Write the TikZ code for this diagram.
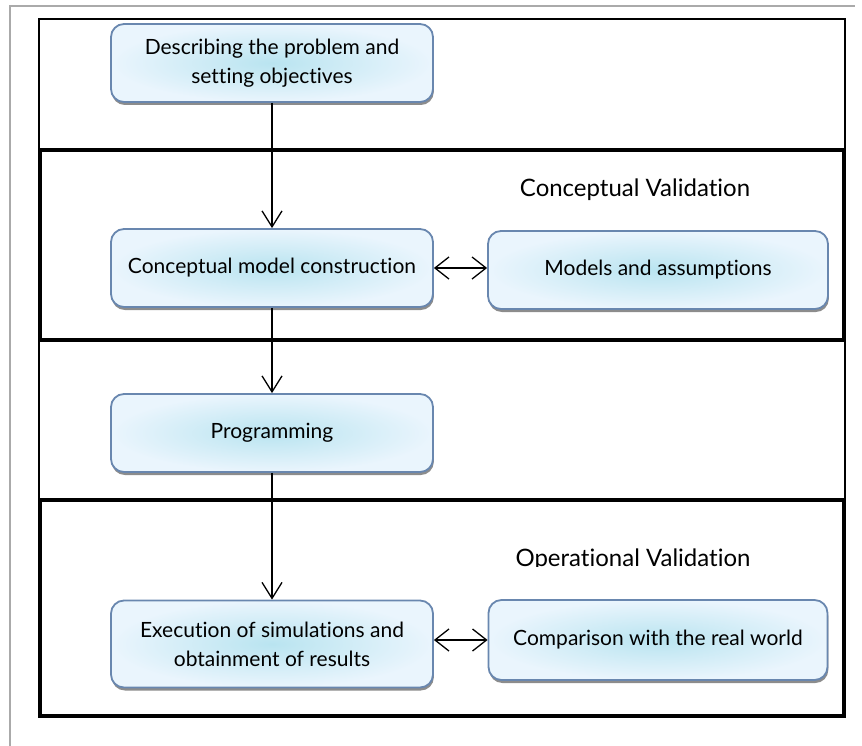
\documentclass[tikz,border=0pt]{standalone}
\usepackage{fontspec}
\setmainfont[Ligatures=NoCommon]{Lato}
\usetikzlibrary{arrows.meta,shadows}
\definecolor{boxedge}{RGB}{105,135,175}
\definecolor{boxin}{RGB}{185,228,240}
\definecolor{boxout}{RGB}{234,245,253}
\definecolor{frame}{RGB}{170,170,170}
\tikzset{
  procbox/.style={draw=boxedge, line width=1.8pt, rounded corners=13pt,
    inner color=boxin, outer color=boxout,
    minimum width=322pt, minimum height=78pt, align=center,
    font=\fontsize{21}{29}\selectfont,
    drop shadow={shadow xshift=0.8pt, shadow yshift=-3pt, opacity=0.6, fill=black!75}},
  thinband/.style={draw=black, line width=1.2pt},
  thickband/.style={draw=black, line width=3.5pt},
  flow/.style={draw=black, line width=1.3pt, -{Straight Barb[length=16pt,width=20pt,line width=1.3pt]}},
  biflow/.style={draw=black, line width=1.3pt, {Straight Barb[length=14pt,width=22pt,line width=1.3pt]}-{Straight Barb[length=14pt,width=22pt,line width=1.3pt]}},
  bandlabel/.style={font=\fontsize{24}{28}\selectfont}
}
\begin{document}
\begin{tikzpicture}[x=1pt,y=-1pt]
\useasboundingbox (0,0) rectangle (862,746);
% page frame
\draw[frame, line width=1.8pt] (10,746) -- (10,6) -- (855,6);
% bands
\draw[thinband] (39,19) rectangle (845,150);
\draw[thinband] (39,340) rectangle (845,500);
\draw[thickband] (40,150) rectangle (844,340);
\draw[thickband] (40,500) rectangle (844,716);
% band labels
\node[bandlabel] (cv) at (635,190) {Conceptual Validation};
\begin{scope}
\clip (480,530) rectangle (800,566);
\node[bandlabel] (ov) at (633,560) {Operational Validation};
\end{scope}
% process boxes
\node[procbox] (desc) at (272,63) {Describing the problem and\\setting objectives};
\node[procbox] (conc) at (272,268) {Conceptual model construction};
\node[procbox, minimum width=340pt] (mod) at (658,270) {Models and assumptions};
\node[procbox] (prog) at (272,433) {Programming};
\node[procbox, minimum height=87pt] (exec) at (272,644) {Execution of simulations and\\obtainment of results};
\node[procbox, minimum width=339pt, minimum height=80pt] (comp) at (658,640) {Comparison with the real world};
% connectors
\draw[flow] (desc.south) -- (conc.north);
\draw[flow] (conc.south) -- (prog.north);
\draw[flow] (prog.south) -- (exec.north);
\draw[biflow] (conc.east) -- (conc.east -| mod.west);
\draw[biflow] (exec.east |- comp.west) -- (comp.west);
\end{tikzpicture}
\end{document}
